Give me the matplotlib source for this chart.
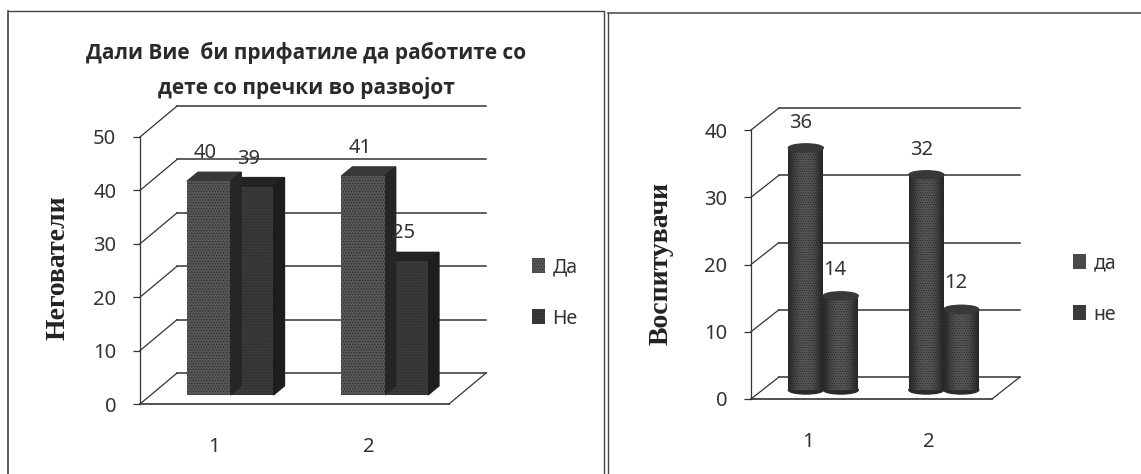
import numpy as np
import matplotlib
matplotlib.use('Agg')
import matplotlib.pyplot as plt
from matplotlib.lines import Line2D
from matplotlib.patches import Ellipse, Polygon
from matplotlib.transforms import ScaledTranslation

plt.rcParams['font.family'] = ['Noto Sans', 'DejaVu Sans']
plt.rcParams['hatch.linewidth'] = 0.4

W, H = 1141, 474

categories = ['1', '2']
left_yes = [40, 41]
left_no = [39, 25]
left_ticks = [0, 10, 20, 30, 40, 50]
left_legend = ['Да', 'Не']
left_title = 'Дали Вие  би прифатиле да работите со\nдете со пречки во развојот'
left_ylabel = 'Негователи'

right_yes = [36, 32]
right_no = [14, 12]
right_ticks = [0, 10, 20, 30, 40]
right_legend = ['да', 'не']
right_ylabel = 'Воспитувачи'

fig = plt.figure(figsize=(W / 100, H / 100), dpi=100)


def make_axes(x0, x1, y_bottom, y_top, ticks):
    # axes box is the front edge of the floor and the front of the value axis
    ax = fig.add_axes([x0 / W, 1 - y_bottom / H, (x1 - x0) / W, (y_bottom - y_top) / H])
    ax.patch.set_alpha(0)
    ax.set_xlim(0.5, 2.5)
    ax.set_ylim(ticks[0], ticks[-1])
    for s in ['top', 'right']:
        ax.spines[s].set_visible(False)
    ax.spines['left'].set_color('#333333')
    ax.spines['left'].set_linewidth(0.9)
    ax.spines['bottom'].set_color('#333333')
    ax.spines['bottom'].set_linewidth(1.2)
    ax.set_yticks(ticks)
    ax.set_xticks([1, 2])
    ax.set_xticklabels(categories)
    ax.tick_params(axis='y', length=5, width=0.9, color='#333333', labelsize=14.5, labelcolor='#333333', pad=12)
    ax.tick_params(axis='x', length=0, labelsize=14.5, labelcolor='#333333', pad=24)
    # labels sit a little left of the category centre in the original
    for lab in ax.get_xticklabels():
        lab.set_transform(lab.get_transform() + ScaledTranslation(-0.03, 0, fig.dpi_scale_trans))
    return ax


def draw_walls(ax, ticks, dx, dy):
    for v in ticks:
        ax.plot([0.5, 0.5 + dx], [v, v + dy], color='#333333', lw=0.9, clip_on=False, zorder=1)
        ax.plot([0.5 + dx, 2.5 + dx], [v + dy, v + dy], color='#333333', lw=1.1, clip_on=False, zorder=1)
    ax.plot([2.5, 2.5 + dx], [0, dy], color='#333333', lw=0.9, clip_on=False, zorder=1)


def box_bars(ax, xs, vals, w, base, dx, dy, front, top, side, label, z):
    bars = ax.bar(xs, vals, w, bottom=base, color=front, hatch='......', edgecolor='#262626',
                  linewidth=0, label=label, clip_on=False, zorder=z + 1)
    for x, v in zip(xs, vals):
        xl, xr = x - w / 2, x + w / 2
        ytop = base + v
        ax.add_patch(Polygon([(xl, ytop), (xl + dx, ytop + dy), (xr + dx, ytop + dy), (xr, ytop)],
                             color=top, clip_on=False, zorder=z))
        ax.add_patch(Polygon([(xr, base), (xr + dx, base + dy), (xr + dx, ytop + dy), (xr, ytop)],
                             color=side, clip_on=False, zorder=z))
    return bars


def cylinder_bars(ax, xs, vals, w, base, eh, color, label, z):
    bars = ax.bar(xs, vals, w, bottom=base, color=color, label=label, linewidth=0, clip_on=False, zorder=z)
    shade = np.array([[0.17, 0.24, 0.30, 0.33, 0.34, 0.34, 0.33, 0.30, 0.24, 0.16]])
    for b, x, v in zip(bars, xs, vals):
        im = ax.imshow(shade, cmap='gray', vmin=0, vmax=1, aspect='auto', interpolation='bicubic',
                       extent=[x - w / 2, x + w / 2, base, base + v], zorder=z + 0.1, clip_on=True)
        im.set_clip_path(b)
        ax.add_patch(Ellipse((x, base), w, eh, color='#2a2a2a', clip_on=False, zorder=z - 0.1))
        ax.add_patch(Ellipse((x, base + v), w, eh, color='#383838', clip_on=False, zorder=z + 0.3))
    ax.bar(xs, vals, w, bottom=base, fill=False, hatch='.......', edgecolor='#222222', linewidth=0,
           clip_on=False, zorder=z + 0.2)
    ax.set_xlim(0.5, 2.5)
    return bars


def value_labels(ax, xs, vals, base, ox, oy):
    for x, v in zip(xs, vals):
        ax.annotate(str(v), (x, base + v), xytext=(ox * 0.72, oy * 0.72), textcoords='offset points',
                    ha='center', va='center', fontsize=14.5, color='#333333', zorder=10, annotation_clip=False)


def add_legend(ax, handles, labels, x, y):
    ax.legend(handles, labels, loc='center left', bbox_to_anchor=(x / W, 1 - y / H), bbox_transform=fig.transFigure,
              frameon=False, fontsize=14, labelcolor='#333333', handlelength=0.65, handleheight=0.8,
              handletextpad=0.4, labelspacing=1.6, borderpad=0, borderaxespad=0)


# left panel: boxes
ax1 = make_axes(140, 449, 404, 137, left_ticks)
draw_walls(ax1, left_ticks, 0.24, 5.8)
cat = np.array([1, 2])
offs = 0.084
w1 = 0.28
base1 = 1.7
b2 = box_bars(ax1, cat + offs + w1 / 2, left_no, w1, base1, 0.071, 1.7, '#3a3a3a', '#232323', '#1d1d1d', left_legend[1], 3)
b1 = box_bars(ax1, cat + offs - w1 / 2, left_yes, w1, base1, 0.071, 1.7, '#565656', '#383838', '#262626', left_legend[0], 5)
value_labels(ax1, cat + offs - w1 / 2, left_yes, base1, -3, 28)
value_labels(ax1, cat + offs + w1 / 2, left_no, base1, -3, 28)
add_legend(ax1, [b1, b2], left_legend, 532, 293)
fig.text(306 / W, 1 - 70.5 / H, left_title, ha='center', va='center', fontsize=15, fontweight='bold',
         color='#2a2a2a', linespacing=1.75, family=['Open Sans', 'DejaVu Sans'])
fig.text(58 / W, 1 - 268 / H, left_ylabel, rotation=90, ha='center', va='center', color='#222222',
         fontsize=20, fontweight='bold', family='Liberation Serif')

# right panel: cylinders
ax2 = make_axes(751, 992, 399, 130, right_ticks)
draw_walls(ax2, right_ticks, 0.232, 3.27)
offs2 = 0.1
w2 = 0.29
base2 = 1.34
c2 = cylinder_bars(ax2, cat + offs2 + w2 / 2, right_no, w2, base2, 1.2, '#3a3a3a', right_legend[1], 3)
c1 = cylinder_bars(ax2, cat + offs2 - w2 / 2, right_yes, w2, base2, 1.2, '#4a4a4a', right_legend[0], 5)
value_labels(ax2, cat + offs2 - w2 / 2, right_yes, base2, -5, 25)
value_labels(ax2, cat + offs2 + w2 / 2, right_no, base2, -6, 26)
add_legend(ax2, [c1, c2], right_legend, 1073, 289)
fig.text(661 / W, 1 - 263 / H, right_ylabel, rotation=90, ha='center', va='center', color='#222222',
         fontsize=20, fontweight='bold', family='Liberation Serif')

# scanned panel frames
frames = [
    ([8, 8], [474, 11], 1.2), ([8, 603], [11, 11], 1.0),
    ([604, 604], [474, 11], 1.0), ([608, 608], [474, 13], 1.0), ([608, 1141], [13, 13], 1.1),
]
for xs, ys, lw in frames:
    fig.add_artist(Line2D([x / W for x in xs], [1 - y / H for y in ys], color='#444444', lw=lw))

fig.savefig('out.png', dpi=100)
